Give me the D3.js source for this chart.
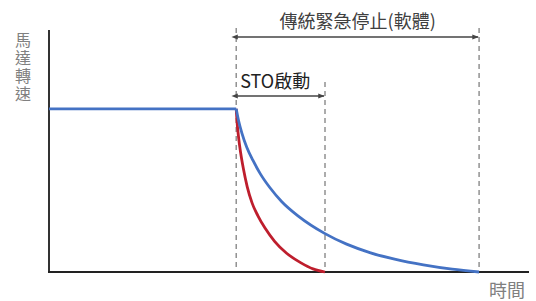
<!DOCTYPE html>
<html>
<head>
<meta charset="utf-8">
<script src="https://cdn.jsdelivr.net/npm/d3@7"></script>
<style>
	body { margin: 0; background: #fff; }
	svg { display: block; font-family: 'Noto Sans CJK TC', 'Noto Sans', sans-serif; }
</style>
</head>
<body>
<svg id="chart" width="536" height="301"></svg>
<script>
// time axis: 0..100, speed axis: 0..100
const runSpeed = [[0, 68], [39, 68]];
const softStop = [[39, 68], [39.5, 63], [40.2, 57.8], [41.2, 52], [42.5, 46.5], [44, 41],
	[46, 35.2], [48.5, 29.3], [52, 23.2], [57.5, 16], [62, 11.6], [67, 8], [72, 5.4],
	[78, 3], [84, 1.2], [89.6, 0]];
const stoStop = [[39, 68], [39.2, 62], [39.5, 56], [39.9, 50], [40.5, 43], [41.3, 35.5],
	[42.3, 28.8], [43.5, 23.5], [45, 18.3], [47, 12.8], [49.5, 7.8], [52.5, 3.8],
	[55, 1.3], [57.5, 0]];
const markers = { stop: 39, sto: 57.5, soft: 89.6 };
const yLabel = '馬達轉速';
const xLabel = '時間';
const softLabel = '傳統緊急停止(軟體)';
const stoLabel = 'STO啟動';

const svg = d3.select('#chart');
const x = d3.scaleLinear().domain([0, 100]).range([49, 529]);
const y = d3.scaleLinear().domain([0, 100]).range([272, 32]);

const defs = svg.append('defs');
['start', 'end'].forEach(k => {
	defs.append('marker')
		.attr('id', 'arr-' + k)
		.attr('viewBox', '0 0 10 10')
		.attr('refX', k === 'end' ? 9 : 1).attr('refY', 5)
		.attr('markerWidth', 4).attr('markerHeight', 4)
		.attr('orient', k === 'end' ? 'auto' : 'auto-start-reverse')
		.append('path')
		.attr('d', 'M0,1 L10,5 L0,9 Z')
		.attr('fill', '#444');
});

// dashed guides
const guides = [
	{ t: markers.stop, top: 28 },
	{ t: markers.sto, top: 82 },
	{ t: markers.soft, top: 28 }
];
svg.selectAll('.guide').data(guides).enter().append('line')
	.attr('class', 'guide')
	.attr('x1', d => x(d.t)).attr('x2', d => x(d.t))
	.attr('y1', d => d.top).attr('y2', y(0))
	.attr('stroke', '#808080').attr('stroke-width', 1.3)
	.attr('stroke-dasharray', '5,4');

// axes
svg.append('line')
	.attr('x1', x(0)).attr('x2', x(0)).attr('y1', 30).attr('y2', y(0))
	.attr('stroke', '#333').attr('stroke-width', 2);
svg.append('line')
	.attr('x1', x(0) - 1).attr('x2', x(100)).attr('y1', y(0)).attr('y2', y(0))
	.attr('stroke', '#222').attr('stroke-width', 2);

// curves
const line = d3.line().x(d => x(d[0])).y(d => y(d[1]));
const smooth = d3.line().x(d => x(d[0])).y(d => y(d[1])).curve(d3.curveMonotoneX);

svg.append('path').datum(stoStop).attr('d', smooth)
	.attr('fill', 'none').attr('stroke', '#be1e2d').attr('stroke-width', 2.8);
svg.append('path').datum(softStop).attr('d', smooth)
	.attr('fill', 'none').attr('stroke', '#4472c4').attr('stroke-width', 2.8);
svg.append('path').datum(runSpeed).attr('d', line)
	.attr('fill', 'none').attr('stroke', '#4472c4').attr('stroke-width', 2.8);

// arrows
const arrows = [
	{ from: markers.stop, to: markers.soft, yy: 37, label: softLabel, mid: true, base: 28 },
	{ from: markers.stop, to: markers.sto, yy: 96, label: stoLabel, mid: false, base: 88 }
];
arrows.forEach(a => {
	svg.append('line')
		.attr('x1', x(a.from) + 1).attr('x2', x(a.to) - 1)
		.attr('y1', a.yy).attr('y2', a.yy)
		.attr('stroke', '#444').attr('stroke-width', 1.6)
		.attr('marker-start', 'url(#arr-start)')
		.attr('marker-end', 'url(#arr-end)');
	svg.append('text')
		.attr('x', a.mid ? (x(a.from) + x(a.to)) / 2 : x(a.from) + 4)
		.attr('y', a.base)
		.attr('text-anchor', a.mid ? 'middle' : 'start')
		.attr('fill', a.mid ? '#404040' : '#222')
		.attr('font-size', 18)
		.text(a.label);
});

// axis titles
svg.append('text')
	.attr('x', 23).attr('y', 32)
	.style('writing-mode', 'vertical-rl')
	.style('letter-spacing', '2px')
	.attr('fill', '#808080').attr('font-size', 16)
	.text(yLabel);
svg.append('text')
	.attr('x', 525).attr('y', 297)
	.attr('text-anchor', 'end')
	.attr('fill', '#808080').attr('font-size', 18)
	.text(xLabel);
</script>
</body>
</html>
